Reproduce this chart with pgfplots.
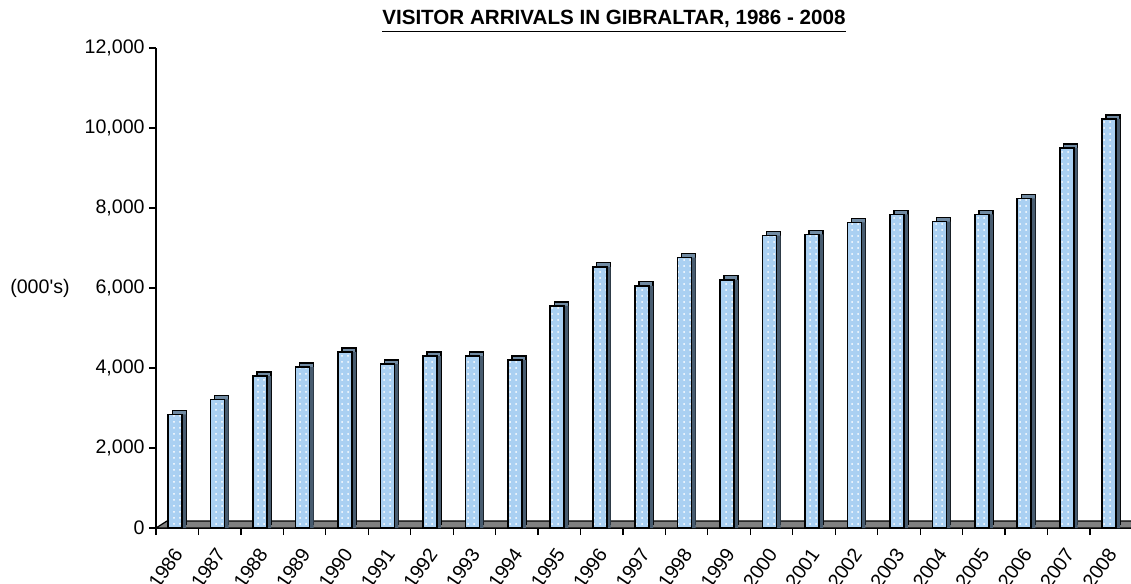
\documentclass[border=0pt]{standalone}
\usepackage{fontspec}
\setmainfont{Liberation Sans}
\usepackage{pgfplots}
\usepackage{pgfplotstable}
\pgfplotsset{compat=1.18}
\usetikzlibrary{patterns}
\definecolor{barfront}{RGB}{170,208,242}
\definecolor{bartop}{RGB}{112,138,162}
\definecolor{barside}{RGB}{72,92,112}
\definecolor{floorgray}{RGB}{128,128,128}

\pgfplotstableread{
x y
0 2840
1 3215
2 3795
3 4020
4 4400
5 4095
6 4295
7 4295
8 4195
9 5550
10 6530
11 6055
12 6760
13 6205
14 7310
15 7340
16 7640
17 7840
18 7660
19 7840
20 8240
21 9500
22 10225
}\visitors

\begin{document}
\begin{tikzpicture}
\path[use as bounding box] (-78pt,-28pt) rectangle (487.5pt,264pt);
\begin{axis}[
  at={(0,0)}, anchor=south west,
  scale only axis, width=488.2pt, height=240pt,
  xmin=-0.5, xmax=22.5, ymin=0, ymax=12000,
  axis x line*=bottom, axis y line*=left,
  axis line style={black, line width=0.6pt},
  tick align=outside, major tick length=3.5pt,
  tick style={black, line width=0.6pt},
  xtick={-0.5,0.5,...,22.5}, xticklabel={\relax},
  extra x ticks={0,1,...,22},
  extra x tick labels={1986,1987,1988,1989,1990,1991,1992,1993,1994,1995,1996,1997,1998,1999,2000,2001,2002,2003,2004,2005,2006,2007,2008},
  extra x tick style={major tick length=0pt, xticklabel style={xshift=0.6pt, yshift=-11pt, rotate=55, anchor=east, inner sep=0pt}},
  ytick={0,2000,...,12000},
  scaled y ticks=false,
  yticklabel style={inner sep=2pt, /pgf/number format/1000 sep={,}, /pgf/number format/assume math mode=true},
  ticklabel style={font=\fontsize{9.8}{11}\selectfont},
  title={\underline{VISITOR ARRIVALS IN GIBRALTAR, 1986 - 2008}},
  title style={font=\bfseries\fontsize{10.3}{12}\selectfont, at={(axis description cs:0.469,1)}, anchor=base, yshift=5.5pt},
  ylabel={(000\textquotesingle s)},
  every axis y label/.style={at={(axis description cs:0,0.5)}, anchor=east, inner sep=0pt, xshift=-43pt, font=\fontsize{9.8}{11}\selectfont},
]
\fill[floorgray, draw=black, line width=0.6pt] (axis cs:-0.5,0) -- (axis cs:22.5,0) -- ([shift={(5.5pt,3.5pt)}]axis cs:22.5,0) -- ([shift={(5.5pt,3.5pt)}]axis cs:-0.5,0) -- cycle;
\addplot[ybar, bar width=7pt, bar shift=-1pt, fill=bartop, draw=black, line width=0.7pt, xshift=2pt, yshift=2pt] table[x=x,y=y]{\visitors};
\addplot[ybar, bar width=7pt, bar shift=-1pt, fill=barside, draw=none, xshift=2pt] table[x=x,y=y]{\visitors};
\addplot[ybar, bar width=7pt, bar shift=-1pt, fill=barfront, draw=black, line width=0.8pt, postaction={pattern=dots, pattern color=white}] table[x=x,y=y]{\visitors};
\end{axis}
\end{tikzpicture}
\end{document}
